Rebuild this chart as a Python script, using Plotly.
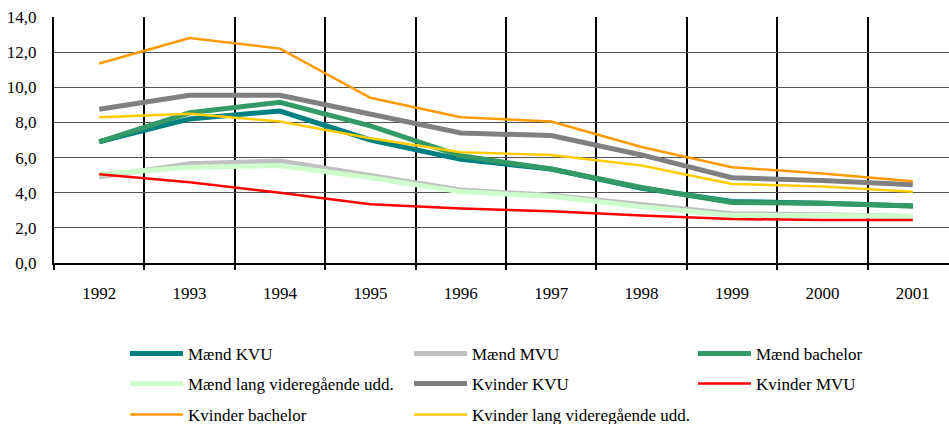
import plotly.graph_objects as go

years = ["1992", "1993", "1994", "1995", "1996", "1997", "1998", "1999", "2000", "2001"]

maend_kvu = [6.9, 8.2, 8.65, 7.0, 5.9, 5.35, 4.25, 3.5, 3.4, 3.25]
maend_mvu = [4.9, 5.65, 5.8, 4.95, 4.15, 3.85, 3.3, 2.8, 2.75, 2.65]
maend_bachelor = [6.9, 8.55, 9.15, 7.8, 6.1, 5.35, 4.3, 3.45, 3.4, 3.25]
maend_lang = [5.05, 5.45, 5.55, 4.85, 4.05, 3.8, 3.2, 2.7, 2.7, 2.65]
kvinder_kvu = [8.75, 9.55, 9.55, 8.45, 7.4, 7.25, 6.15, 4.85, 4.7, 4.45]
kvinder_mvu = [5.05, 4.6, 4.0, 3.35, 3.1, 2.95, 2.7, 2.5, 2.45, 2.45]
kvinder_bachelor = [11.35, 12.8, 12.2, 9.4, 8.3, 8.05, 6.6, 5.45, 5.1, 4.65]
kvinder_lang = [8.3, 8.5, 8.05, 7.1, 6.3, 6.15, 5.55, 4.5, 4.35, 4.05]

y_ticks = [0, 2, 4, 6, 8, 10, 12, 14]

FONT = "Liberation Serif"

# (name, values, colour, width, legend row)
series = [
    ("Mænd KVU", maend_kvu, "#008080", 5, "legend"),
    ("Mænd MVU", maend_mvu, "#C0C0C0", 5, "legend"),
    ("Mænd bachelor", maend_bachelor, "#339966", 5, "legend"),
    ("Mænd lang videregående udd.", maend_lang, "#CCFFCC", 5, "legend2"),
    ("Kvinder KVU", kvinder_kvu, "#808080", 5, "legend2"),
    ("Kvinder MVU", kvinder_mvu, "#FF0000", 2.5, "legend2"),
    ("Kvinder bachelor", kvinder_bachelor, "#FF9900", 2.5, "legend3"),
    ("Kvinder lang videregående udd.", kvinder_lang, "#FFCC00", 2.5, "legend3"),
]

fig = go.Figure()
for name, vals, color, width, leg in series:
    fig.add_trace(go.Scatter(
        x=years, y=vals, name=name, mode="lines",
        line=dict(color=color, width=width),
        legend=leg,
    ))

W, H = 949, 424
left, top, bottom = 54, 17, 161
cat_w = 90.4
x_max = (W - left) / cat_w - 0.5

legend_common = dict(
    orientation="h", xref="container", yref="container",
    xanchor="left", yanchor="middle",
    x=125 / W, itemwidth=53, entrywidth=216,
    font=dict(family=FONT, size=17, color="black"),
    bgcolor="rgba(0,0,0,0)", borderwidth=0,
    tracegroupgap=0,
)

fig.update_layout(
    width=W, height=H,
    margin=dict(l=left, r=0, t=top, b=bottom, pad=0),
    paper_bgcolor="white", plot_bgcolor="white",
    separators=", ",
    font=dict(family=FONT, size=17, color="black"),
    legend=dict(legend_common, y=1 - 354 / H),
    legend2=dict(legend_common, y=1 - 384 / H),
    legend3=dict(legend_common, y=1 - 415 / H),
    xaxis=dict(
        type="category", range=[-0.5, x_max],
        tickson="boundaries", ticks="outside", ticklen=5, tickwidth=2, tickcolor="black",
        showgrid=True, gridcolor="black", gridwidth=2,
        showline=True, linecolor="black", linewidth=2,
        ticklabelstandoff=14,
        tickfont=dict(family=FONT, size=17, color="black"),
        zeroline=False,
    ),
    yaxis=dict(
        range=[0, 14], tickvals=y_ticks, tickformat=".1f",
        showgrid=True, gridcolor="#555555", gridwidth=1,
        showline=True, linecolor="black", linewidth=2,
        ticks="", ticklabelstandoff=12,
        tickfont=dict(family=FONT, size=17, color="black"),
        zeroline=False,
    ),
)

fig.write_html("out.html")
